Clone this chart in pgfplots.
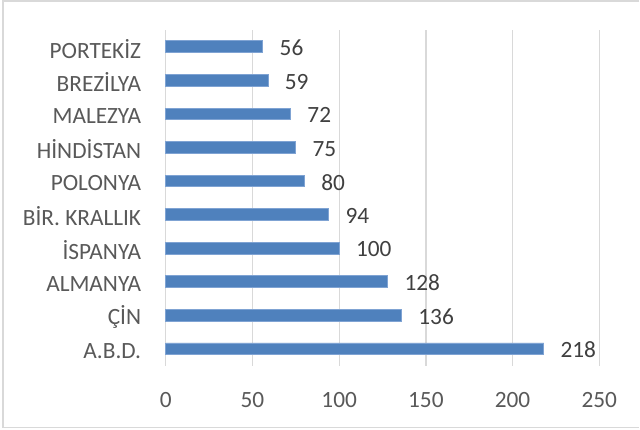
\documentclass[border=0pt]{standalone}
\usepackage{fontspec}
\setmainfont{Carlito}
\usepackage{pgfplots}
\pgfplotsset{compat=1.18}
\definecolor{barblue}{HTML}{4F81BD}
\definecolor{baredge}{HTML}{7FA3D3}
\definecolor{gridgray}{HTML}{D9D9D9}
\definecolor{txtgray}{HTML}{595959}
\definecolor{lblgray}{HTML}{404040}
\begin{document}
\begin{tikzpicture}
\path[fill=white] (-124.5pt,-48pt) rectangle (355.5pt,274.5pt);
\draw[gridgray, line width=1.2pt] (355.5pt,273.75pt) -- (-122.25pt,273.75pt) -- (-122.25pt,-46.5pt) -- (355.5pt,-46.5pt);
\begin{axis}[
  at={(0,0)}, anchor=south west,
  scale only axis,
  width=325.5pt, height=252pt,
  xbar, bar width=8.8pt,
  xmin=0, xmax=250,
  ymin=-0.5, ymax=9.5,
  xtick={0,50,100,150,200,250},
  ytick={0,...,9},
  yticklabels={A.B.D., ÇİN, ALMANYA, İSPANYA, BİR. KRALLIK, POLONYA, HİNDİSTAN, MALEZYA, BREZİLYA, PORTEKİZ},
  axis line style={draw=none},
  major tick length=0pt,
  xmajorgrids, grid style={gridgray, line width=1pt},
  /pgf/number format/assume math mode=true,
  ticklabel style={font=\fontsize{17.5}{21}\selectfont, text=txtgray},
  xticklabel style={yshift=-16.5pt},
  yticklabel style={xshift=-15pt, yshift=-1.5pt},
  nodes near coords,
  every node near coord/.append style={font=\fontsize{17.5}{21}\selectfont, text=lblgray, anchor=west, xshift=9pt, yshift=-1pt},
  clip=false,
]
\addplot[fill=barblue, draw=baredge, line width=0.6pt] coordinates {
  (218,0) (136,1) (128,2) (100,3) (94,4) (80,5) (75,6) (72,7) (59,8) (56,9)
};
\end{axis}
\end{tikzpicture}
\end{document}
